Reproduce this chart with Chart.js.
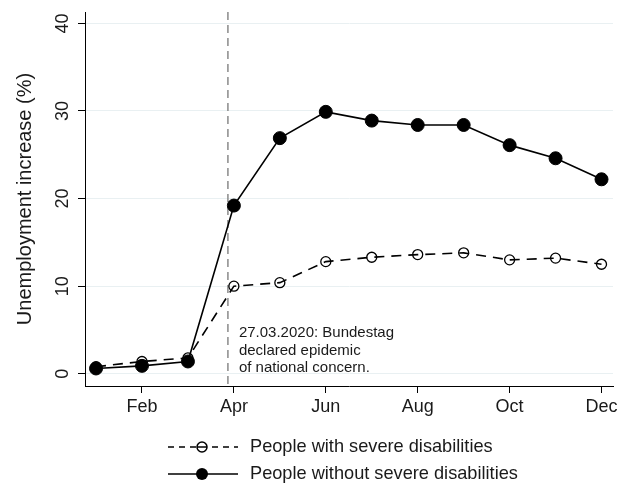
<!DOCTYPE html>
<html>
<head>
<meta charset="utf-8">
<script src="https://cdn.jsdelivr.net/npm/chart.js@4.4.0/dist/chart.umd.min.js"></script>
<style>
  html, body { margin: 0; padding: 0; background: #fff; }
</style>
</head>
<body>
<canvas id="myChart" width="631" height="485"></canvas>
<script>
// months 1..12 = Jan..Dec
var months = [1, 2, 3, 4, 5, 6, 7, 8, 9, 10, 11, 12];
var monthNames = ['Jan', 'Feb', 'Mar', 'Apr', 'May', 'Jun', 'Jul', 'Aug', 'Sep', 'Oct', 'Nov', 'Dec'];
var withDisabilities = [0.8, 1.4, 1.8, 10.0, 10.4, 12.8, 13.3, 13.6, 13.8, 13.0, 13.2, 12.5];
var withoutDisabilities = [0.6, 0.9, 1.4, 19.2, 26.9, 29.9, 28.9, 28.4, 28.4, 26.1, 24.6, 22.2];
var yTicks = [0, 10, 20, 30, 40];
var xTicks = [2, 4, 6, 8, 10, 12];
var eventMonth = 3.87; // 27.03.2020
var eventLines = ['27.03.2020: Bundestag', 'declared epidemic', 'of national concern.'];
var legendLabels = ['People with severe disabilities', 'People without severe disabilities'];

var fontFamily = '"Liberation Sans", Arial, Helvetica, sans-serif';

var canvas = document.getElementById('myChart');
var ctx = canvas.getContext('2d');

// vertical event line, annotation and the legend
var extras = {
    id: 'extras',
    beforeDatasetsDraw: function (chart) {
        var c = chart.ctx;
        var area = chart.chartArea;
        var x = chart.scales.x.getPixelForValue(eventMonth);
        c.save();
        c.strokeStyle = '#8a8a8a';
        c.lineWidth = 1.5;
        c.setLineDash([8, 5]);
        c.beginPath();
        c.moveTo(x, area.top);
        c.lineTo(x, area.bottom);
        c.stroke();
        c.restore();
    },
    afterDraw: function (chart) {
        var c = chart.ctx;
        var x = chart.scales.x.getPixelForValue(eventMonth) + 11;
        c.save();
        c.fillStyle = '#1a1a1a';
        c.font = '15px ' + fontFamily;
        c.textAlign = 'left';
        c.textBaseline = 'middle';
        eventLines.forEach(function (t, i) {
            c.fillText(t, x, 333 + i * 17.6);
        });

        // legend
        var rows = [447, 474];
        c.strokeStyle = '#000';
        c.fillStyle = '#000';
        c.lineWidth = 1.5;
        // row 1: dashed line with hollow circle
        c.setLineDash([6, 5]);
        c.beginPath();
        c.moveTo(168, rows[0]);
        c.lineTo(238, rows[0]);
        c.stroke();
        c.setLineDash([]);
        c.fillStyle = '#fff';
        c.beginPath();
        c.arc(202, rows[0], 5, 0, Math.PI * 2);
        c.fill();
        c.stroke();
        c.beginPath();
        c.moveTo(197, rows[0]);
        c.lineTo(207, rows[0]);
        c.stroke();
        // row 2: solid line with filled circle
        c.beginPath();
        c.moveTo(168, rows[1]);
        c.lineTo(238, rows[1]);
        c.stroke();
        c.fillStyle = '#000';
        c.beginPath();
        c.arc(202, rows[1], 6, 0, Math.PI * 2);
        c.fill();

        c.font = '18.2px ' + fontFamily;
        c.fillStyle = '#1a1a1a';
        c.fillText(legendLabels[0], 250, rows[0]);
        c.fillText(legendLabels[1], 250, rows[1]);
        c.restore();
    }
};

var data = {
    datasets: [{
        label: legendLabels[1],
        data: months.map(function (m, i) { return { x: m, y: withoutDisabilities[i] }; }),
        borderColor: '#000',
        borderWidth: 1.6,
        pointRadius: 6.5,
        pointBackgroundColor: '#000',
        pointBorderColor: '#000',
        pointBorderWidth: 1,
        tension: 0,
        order: 1
    }, {
        label: legendLabels[0],
        data: months.map(function (m, i) { return { x: m, y: withDisabilities[i] }; }),
        borderColor: '#000',
        borderWidth: 1.6,
        borderDash: [10, 7],
        pointRadius: 5,
        pointBackgroundColor: 'rgba(0,0,0,0)',
        pointBorderColor: '#000',
        pointBorderWidth: 1.3,
        tension: 0,
        order: 2
    }]
};

var config = {
    type: 'line',
    data: data,
    options: {
        responsive: false,
        devicePixelRatio: 1,
        animation: false,
        layout: {
            padding: { top: 12, right: 18, bottom: 65, left: 0 }
        },
        scales: {
            x: {
                type: 'linear',
                min: 0.76,
                max: 12.25,
                afterBuildTicks: function (scale) {
                    scale.ticks = xTicks.map(function (v) { return { value: v }; });
                },
                afterFit: function (scale) {
                    scale.height = 34;
                },
                ticks: {
                    color: '#1a1a1a',
                    font: { family: fontFamily, size: 18 },
                    padding: 3,
                    maxRotation: 0,
                    autoSkip: false,
                    callback: function (v) { return monthNames[v - 1]; }
                },
                grid: {
                    display: true,
                    drawOnChartArea: false,
                    tickLength: 7,
                    tickColor: '#000',
                    tickWidth: 1
                },
                border: { color: '#000', width: 1 }
            },
            y: {
                min: -1.4,
                max: 41.3,
                afterBuildTicks: function (scale) {
                    scale.ticks = yTicks.map(function (v) { return { value: v }; });
                },
                afterFit: function (scale) {
                    scale.width = 85;
                    scale.paddingTop = 0;
                    scale.paddingBottom = 0;
                },
                ticks: {
                    color: '#1a1a1a',
                    font: { family: fontFamily, size: 18 },
                    minRotation: 90,
                    maxRotation: 90,
                    crossAlign: 'center',
                    padding: 5
                },
                grid: {
                    color: '#e9f0f2',
                    lineWidth: 1,
                    tickLength: 7,
                    tickColor: '#000',
                    tickWidth: 1
                },
                border: { color: '#000', width: 1 },
                title: {
                    display: true,
                    text: 'Unemployment increase (%)',
                    color: '#1a1a1a',
                    font: { family: fontFamily, size: 20 },
                    padding: { top: 13, bottom: 0 }
                }
            }
        },
        plugins: {
            legend: { display: false },
            tooltip: { enabled: false }
        }
    },
    plugins: [extras]
};

new Chart(ctx, config);
</script>
</body>
</html>
